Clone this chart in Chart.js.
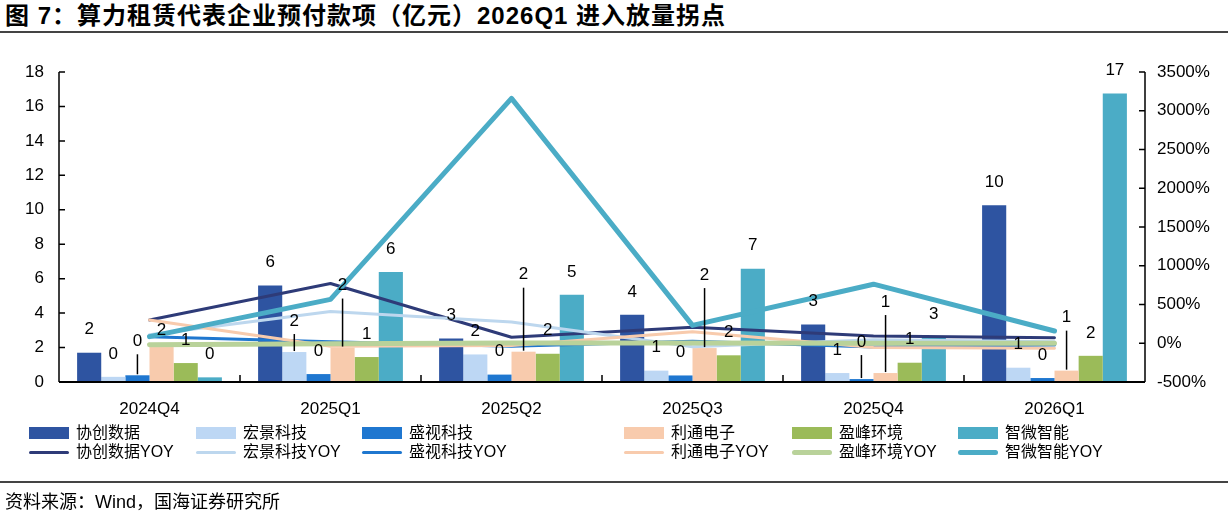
<!DOCTYPE html>
<html>
<head>
<meta charset="utf-8">
<script src="https://cdn.jsdelivr.net/npm/chart.js@4.4.1/dist/chart.umd.min.js"></script>
<style>
  html, body { margin: 0; padding: 0; background: #fff; }
  body { width: 1228px; height: 518px; position: relative; overflow: hidden;
         font-family: "Liberation Sans", "Noto Sans CJK SC", sans-serif; color: #000; }
  #title { position: absolute; left: 5px; top: 1px; font-size: 24px; letter-spacing: 1px; font-weight: bold; white-space: nowrap; line-height: 30px; }
  .rule { position: absolute; left: 0; width: 1228px; height: 2px; background: #444; }
  #footer { position: absolute; left: 5px; top: 490px; font-size: 18px; white-space: nowrap; line-height: 24px; }
  #wrap { position: absolute; left: 0; top: 0; width: 1228px; height: 518px; }
  .lg { position: absolute; font-size: 16px; white-space: nowrap; line-height: 20px; }
  .sw { position: absolute; width: 40px; }
</style>
</head>
<body>
<div id="title">图 7：算力租赁代表企业预付款项（亿元）2026Q1 进入放量拐点</div>
<div class="rule" style="top:31px"></div>
<div id="wrap"><canvas id="c" width="1228" height="518"></canvas></div>
<div id="legend"></div>
<div class="rule" style="top:481px"></div>
<div id="footer">资料来源：Wind，国海证券研究所</div>
<script>
// ---- data ----
const categories = ['2024Q4', '2025Q1', '2025Q2', '2025Q3', '2025Q4', '2026Q1'];
const seriesNames = ['协创数据', '宏景科技', '盛视科技', '利通电子', '盈峰环境', '智微智能'];
// 预付款项（亿元）
const xcsj = [1.70, 5.60, 2.52, 3.90, 3.34, 10.26];
const hjkj = [0.30, 1.74, 1.60, 0.66, 0.52, 0.83];
const sskj = [0.39, 0.46, 0.43, 0.38, 0.17, 0.23];
const ltdz = [2.03, 2.00, 1.76, 1.97, 0.52, 0.66];
const yfhj = [1.10, 1.45, 1.64, 1.55, 1.12, 1.52];
const zwzn = [0.27, 6.38, 5.06, 6.58, 2.60, 16.75];
// YOY (%)
const xcsjYoy = [300, 771, 77, 206, 94, 72];
const hjkjYoy = [110, 410, 275, -44, 45, 20];
const sskjYoy = [85, 20, -40, 25, -48, -22];
const ltdzYoy = [300, -40, -30, 149, -55, -64];
const yfhjYoy = [-20, -5, 3, 3, 0, 0];
const zwznYoy = [85, 566, 3160, 230, 762, 158];
// axis ticks
const leftTicks = { min: 0, max: 18, step: 2 };
const rightTicks = { min: -500, max: 3500, step: 500 };

// ---- styles ----
const barColors = ['#2E54A1', '#BDD7F4', '#1F77D0', '#F8CBAD', '#9BBB59', '#4BACC6'];
const lineColors = ['#2E3B78', '#BDD7EE', '#1F77CF', '#F8CBAD', '#B9D29A', '#4BACC6'];
const lineWidths = [3, 3, 3, 3, 5, 5];
// extra lift (px) of some data labels that use a leader line
const labelLift = [
  [0, 0, 0, 0, 0, 0],
  [0, 8, 0, 0, 0, 0],
  [11, 0, 0, 0, 14, 0],
  [-6, 39, 54, 50, 48, 30],
  [0, 0, 0, 0, 0, 0],
  [0, 0, 0, 0, 0, 0]
];

const barData = [xcsj, hjkj, sskj, ltdz, yfhj, zwzn];
const yoyData = [xcsjYoy, hjkjYoy, sskjYoy, ltdzYoy, yfhjYoy, zwznYoy];

const datasets = [];
barData.forEach((d, i) => datasets.push({
  type: 'bar', label: seriesNames[i], data: d, yAxisID: 'y',
  backgroundColor: barColors[i], borderWidth: 0, order: 10,
  barPercentage: 1.0, categoryPercentage: 0.8
}));
yoyData.forEach((d, i) => datasets.push({
  type: 'line', label: seriesNames[i] + 'YOY', data: d, yAxisID: 'y1',
  borderColor: lineColors[i], backgroundColor: lineColors[i], borderWidth: lineWidths[i],
  pointRadius: 0, tension: 0, fill: false, order: 6 - i, borderJoinStyle: 'round', borderCapStyle: 'round'
}));

const FONT = { family: '"Liberation Sans", Arial, sans-serif', size: 17 };

const axisPlugin = {
  id: 'axisPlugin',
  afterDatasetsDraw(chart) {
    const ctx = chart.ctx;
    const a = chart.chartArea;
    const y = chart.scales.y, y1 = chart.scales.y1;
    ctx.save();
    ctx.strokeStyle = '#000';
    ctx.lineWidth = 1.5;
    ctx.beginPath();
    ctx.moveTo(a.left, a.top); ctx.lineTo(a.left, a.bottom);
    ctx.moveTo(a.right, a.top); ctx.lineTo(a.right, a.bottom);
    ctx.stroke();
    ctx.lineWidth = 2;
    ctx.beginPath();
    ctx.moveTo(a.left, a.bottom); ctx.lineTo(a.right, a.bottom);
    ctx.stroke();
    ctx.lineWidth = 1.5;
    ctx.beginPath();
    y.ticks.forEach(t => { const py = y.getPixelForValue(t.value); ctx.moveTo(a.left, py); ctx.lineTo(a.left + 6, py); });
    y1.ticks.forEach(t => { const py = y1.getPixelForValue(t.value); ctx.moveTo(a.right, py); ctx.lineTo(a.right - 6, py); });
    const n = categories.length;
    const w = (a.right - a.left) / n;
    for (let k = 1; k < n; k++) { const px = a.left + w * k; ctx.moveTo(px, a.bottom); ctx.lineTo(px, a.bottom - 7); }
    ctx.stroke();

    // data labels
    ctx.font = '17px "Liberation Sans", Arial, sans-serif';
    ctx.fillStyle = '#000';
    ctx.textAlign = 'center';
    ctx.textBaseline = 'middle';
    ctx.lineWidth = 1.5;
    barData.forEach((d, i) => {
      const meta = chart.getDatasetMeta(i);
      meta.data.forEach((el, j) => {
        const lift = labelLift[i][j];
        const ly = el.y - 23 - lift;
        ctx.fillText(String(Math.round(d[j])), el.x, ly);
        if (lift > 5) {
          ctx.beginPath();
          ctx.moveTo(el.x, ly + 13);
          ctx.lineTo(el.x, el.y - 1);
          ctx.stroke();
        }
      });
    });
    ctx.restore();
  }
};

new Chart(document.getElementById('c'), {
  data: { labels: categories, datasets },
  options: {
    responsive: false,
    animation: false,
    devicePixelRatio: 1,
    layout: { padding: { top: 72, left: 0, right: 0, bottom: 0 } },
    plugins: { legend: { display: false }, tooltip: { enabled: false } },
    scales: {
      x: {
        type: 'category', offset: true,
        grid: { display: false, drawTicks: false },
        border: { display: false },
        ticks: { font: FONT, color: '#000', padding: 17, maxRotation: 0 },
        afterFit(s) { s.height = 136; }
      },
      y: {
        position: 'left', min: leftTicks.min, max: leftTicks.max,
        grid: { display: false, drawTicks: false },
        border: { display: false },
        ticks: { stepSize: leftTicks.step, font: FONT, color: '#000', padding: 15 },
        afterFit(s) { s.width = 59; }
      },
      y1: {
        position: 'right', min: rightTicks.min, max: rightTicks.max,
        grid: { display: false, drawTicks: false },
        border: { display: false },
        ticks: { stepSize: rightTicks.step, font: FONT, color: '#000', padding: 12,
                 callback: v => v + '%' },
        afterFit(s) { s.width = 83; }
      }
    }
  },
  plugins: [axisPlugin]
});

// ---- legend (HTML) ----
const legendX = [29, 196, 362, 624, 792, 958];
const lg = document.getElementById('legend');
seriesNames.forEach((name, i) => {
  const x = legendX[i];
  const b = document.createElement('div');
  b.className = 'sw';
  b.style.cssText = `left:${x}px;top:427px;height:12px;background:${barColors[i]}`;
  lg.appendChild(b);
  const t = document.createElement('div');
  t.className = 'lg';
  t.style.cssText = `left:${x + 47}px;top:423px`;
  t.textContent = name;
  lg.appendChild(t);
  const l = document.createElement('div');
  l.className = 'sw';
  const h = lineWidths[i];
  l.style.cssText = `left:${x}px;top:${452 - h / 2}px;height:${h}px;border-radius:${h / 2}px;background:${lineColors[i]}`;
  lg.appendChild(l);
  const t2 = document.createElement('div');
  t2.className = 'lg';
  t2.style.cssText = `left:${x + 47}px;top:442px`;
  t2.textContent = name + 'YOY';
  lg.appendChild(t2);
});
</script>
</body>
</html>
